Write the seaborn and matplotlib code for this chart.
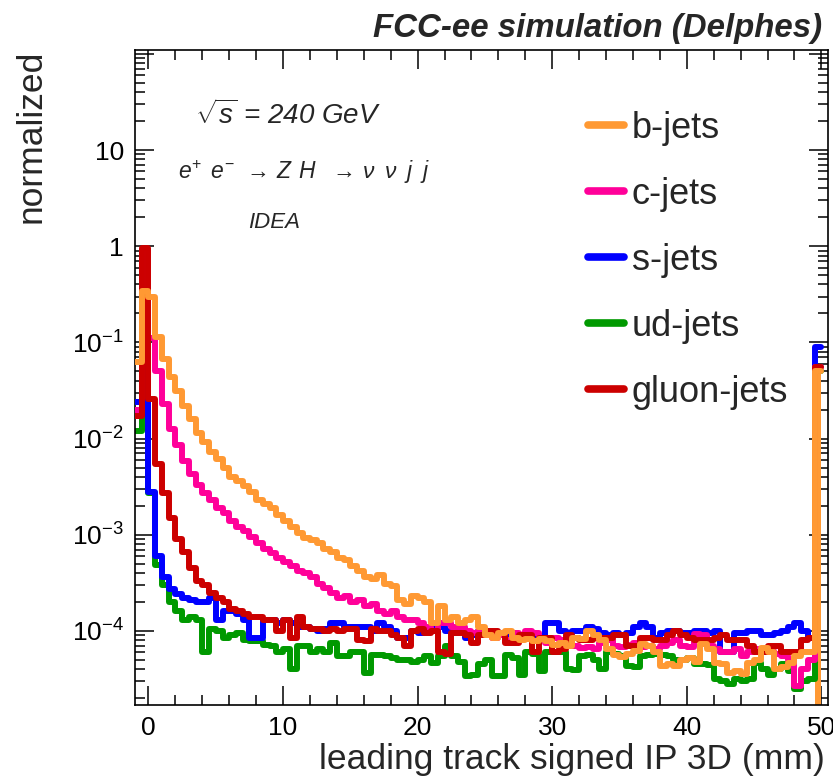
import numpy as np
import pandas as pd
import matplotlib
matplotlib.use("Agg")
import matplotlib.pyplot as plt
import seaborn as sns
from matplotlib.lines import Line2D
from matplotlib.ticker import FixedLocator, MultipleLocator, FuncFormatter, NullFormatter

sns.set_style("ticks")
plt.rcParams['font.family'] = ['Liberation Sans', 'DejaVu Sans']
plt.rcParams['mathtext.fontset'] = 'custom'
plt.rcParams['mathtext.rm'] = 'Liberation Sans'
plt.rcParams['mathtext.it'] = 'Liberation Sans:italic'
plt.rcParams['mathtext.bf'] = 'Liberation Sans:bold'

# ---------------- data ----------------
bin_edges = np.arange(-1.0, 50.0 + 0.25, 0.5)
bin_centers = bin_edges[:-1] + 0.25

labels = ["b-jets", "c-jets", "s-jets", "ud-jets", "gluon-jets"]
colors = ["#ff9933", "#ff0099", "#0000ff", "#009900", "#cc0000"]

b_jets = [
    0.063, 0.34, 0.30, 0.115, 0.068, 0.044, 0.031, 0.022, 0.016, 0.0115,
    0.0092, 0.0072, 0.0062, 0.0049, 0.0040, 0.0036, 0.0032, 0.0028, 0.0023, 0.0021,
    0.0019, 0.0016, 0.0014, 0.0012, 0.00105, 0.00092, 0.00088, 0.00082, 0.00072, 0.00066,
    0.00058, 0.00055, 0.00047, 0.00042, 0.00036, 0.00035, 0.00038, 0.00031, 0.00029, 0.00021,
    0.00019, 0.00023, 0.00022, 0.00020, 0.00012, 0.00018, 0.00013, 0.00014, 0.00012, 0.00013,
    0.00014, 0.00011, 9.0e-5, 8.5e-5, 9.5e-5, 1.0e-4, 8.5e-5, 8.0e-5, 8.2e-5, 7.8e-5,
    8.3e-5, 7.8e-5, 7.2e-5, 7.5e-5, 7.0e-5, 8.5e-5, 8.3e-5, 1.0e-4, 9.0e-5, 8.0e-5,
    6.5e-5, 5.6e-5, 5.4e-5, 5.8e-5, 6.2e-5, 7.3e-5, 7.0e-5, 6.0e-5, 4.3e-5, 4.5e-5,
    4.3e-5, 5.0e-5, 5.2e-5, 4.8e-5, 7.3e-5, 6.5e-5, 4.7e-5, 4.5e-5, 3.7e-5, 3.8e-5,
    3.6e-5, 4.7e-5, 5.0e-5, 6.6e-5, 6.0e-5, 4.0e-5, 4.2e-5, 4.7e-5, 5.5e-5, 6.0e-5,
    6.0e-5, 0.05,
]
c_jets = [
    0.020, 0.85, 0.11, 0.050, 0.023, 0.0127, 0.0085, 0.0059, 0.0043, 0.0033,
    0.0027, 0.0023, 0.0019, 0.0017, 0.0014, 0.0012, 0.0011, 0.00095, 0.00082, 0.00071,
    0.00064, 0.00058, 0.00052, 0.00047, 0.00042, 0.00040, 0.00036, 0.00031, 0.00028, 0.00025,
    0.00022, 0.00023, 0.00020, 0.00021, 0.00018, 0.00019, 0.00016, 0.00015, 0.00016, 0.00014,
    0.00013, 0.00013, 0.00012, 0.00011, 1.0e-4, 0.00012, 0.00012, 0.00011, 0.00011, 1.0e-4,
    9.5e-5, 1.0e-4, 9.5e-5, 8.5e-5, 9.0e-5, 8.0e-5, 9.5e-5, 8.5e-5, 1.0e-4, 9.5e-5,
    8.0e-5, 7.5e-5, 8.5e-5, 8.0e-5, 7.5e-5, 7.0e-5, 6.6e-5, 6.8e-5, 6.5e-5, 7.5e-5,
    8.0e-5, 7.0e-5, 6.8e-5, 7.2e-5, 7.5e-5, 6.8e-5, 7.0e-5, 6.5e-5, 7.0e-5, 7.5e-5,
    8.0e-5, 7.0e-5, 6.8e-5, 9.3e-5, 9.0e-5, 7.0e-5, 6.5e-5, 6.0e-5, 6.0e-5, 6.5e-5,
    5.5e-5, 6.0e-5, 6.5e-5, 6.0e-5, 6.2e-5, 5.8e-5, 5.5e-5, 5.0e-5, 2.7e-5, 4.0e-5,
    5.0e-5, 0.055,
]
s_jets = [
    0.024, 0.90, 0.0028, 0.0006, 0.00036, 0.00027, 0.00024, 0.00022, 0.00021, 0.00020,
    0.00020, 0.00022, 0.00013, 0.00016, 0.00016, 0.00015, 0.00013, 8.5e-5, 8.5e-5, 0.00013,
    0.00013, 0.00012, 0.00013, 0.00012, 0.00011, 0.00011, 0.000105, 1.0e-4, 0.000105, 0.00012,
    0.00012, 0.00011, 0.00011, 0.00011, 0.00011, 1.0e-4, 0.00012, 0.00011, 1.0e-4, 8.5e-5,
    8.5e-5, 1.0e-4, 9.5e-5, 1.0e-4, 0.00011, 0.00011, 1.0e-4, 9.5e-5, 1.0e-4, 8.5e-5,
    9.0e-5, 1.0e-4, 9.5e-5, 9.0e-5, 9.5e-5, 9.0e-5, 8.5e-5, 9.0e-5, 8.5e-5, 9.0e-5,
    8.5e-5, 0.00012, 0.00012, 1.0e-4, 9.5e-5, 1.0e-4, 1.0e-4, 0.00011, 0.000105, 9.5e-5,
    9.0e-5, 9.5e-5, 9.0e-5, 9.5e-5, 0.00011, 0.00012, 0.00011, 8.5e-5, 9.5e-5, 1.0e-4,
    1.0e-4, 9.5e-5, 9.5e-5, 1.0e-4, 1.0e-4, 9.5e-5, 1.0e-4, 6.0e-5, 6.0e-5, 9.5e-5,
    9.5e-5, 1.0e-4, 1.0e-4, 9.0e-5, 9.0e-5, 9.5e-5, 1.0e-4, 0.00011, 0.00012, 1.0e-4,
    8.5e-5, 0.09,
]
ud_jets = [
    0.012, 0.90, 0.0027, 0.00048, 0.00030, 0.00020, 0.00016, 0.00013, 0.00014, 0.00013,
    6.0e-5, 0.000105, 1.0e-4, 8.5e-5, 9.0e-5, 9.5e-5, 8.0e-5, 7.8e-5, 7.8e-5, 7.2e-5,
    7.0e-5, 6.0e-5, 6.5e-5, 4.0e-5, 7.0e-5, 7.0e-5, 6.0e-5, 6.5e-5, 6.0e-5, 7.5e-5,
    5.5e-5, 5.5e-5, 6.0e-5, 6.0e-5, 3.7e-5, 5.6e-5, 5.6e-5, 5.5e-5, 5.2e-5, 5.0e-5,
    5.0e-5, 4.8e-5, 5.0e-5, 5.5e-5, 4.7e-5, 5.5e-5, 7.0e-5, 5.5e-5, 4.8e-5, 3.4e-5,
    3.5e-5, 4.5e-5, 5.0e-5, 3.4e-5, 3.4e-5, 5.6e-5, 5.2e-5, 3.5e-5, 6.0e-5, 5.8e-5,
    3.8e-5, 6.0e-5, 6.0e-5, 6.0e-5, 4.0e-5, 3.9e-5, 5.5e-5, 5.6e-5, 5.0e-5, 4.0e-5,
    6.0e-5, 5.8e-5, 5.5e-5, 4.3e-5, 4.2e-5, 5.5e-5, 5.6e-5, 5.8e-5, 5.6e-5, 5.5e-5,
    5.0e-5, 5.0e-5, 5.2e-5, 4.5e-5, 4.5e-5, 4.4e-5, 3.2e-5, 3.0e-5, 2.8e-5, 3.2e-5,
    3.0e-5, 3.2e-5, 4.7e-5, 4.0e-5, 3.5e-5, 4.0e-5, 4.5e-5, 3.8e-5, 2.5e-5, 3.0e-5,
    3.2e-5, 0.05,
]
gluon_jets = [
    0.017, 0.95, 0.026, 0.0055, 0.0027, 0.0015, 0.00091, 0.00067, 0.00045, 0.00033,
    0.00030, 0.00025, 0.00022, 0.00020, 0.00017, 0.00016, 0.00015, 0.00014, 0.00014, 0.00013,
    0.00013, 1.0e-4, 0.00013, 8.5e-5, 0.00014, 0.00011, 0.000105, 0.000105, 1.0e-4, 0.000105,
    1.0e-4, 0.000105, 0.000105, 8.0e-5, 7.8e-5, 0.000105, 1.0e-4, 1.0e-4, 9.0e-5, 8.5e-5,
    7.0e-5, 1.0e-4, 0.000105, 9.5e-5, 1.0e-4, 6.0e-5, 5.8e-5, 9.5e-5, 9.5e-5, 9.0e-5,
    7.5e-5, 9.0e-5, 1.0e-4, 1.0e-4, 9.5e-5, 7.5e-5, 7.5e-5, 9.0e-5, 9.0e-5, 6.0e-5,
    8.5e-5, 8.5e-5, 6.0e-5, 6.5e-5, 9.0e-5, 8.5e-5, 8.0e-5, 8.0e-5, 8.5e-5, 8.5e-5,
    8.5e-5, 9.0e-5, 9.0e-5, 7.0e-5, 7.0e-5, 8.5e-5, 8.5e-5, 8.0e-5, 8.0e-5, 9.0e-5,
    1.0e-4, 9.0e-5, 8.5e-5, 8.0e-5, 8.0e-5, 8.0e-5, 8.5e-5, 9.0e-5, 8.0e-5, 8.0e-5,
    8.0e-5, 7.0e-5, 6.0e-5, 6.0e-5, 7.0e-5, 7.0e-5, 6.0e-5, 6.0e-5, 6.0e-5, 8.0e-5,
    8.5e-5, 0.055,
]

series = {"b-jets": b_jets, "c-jets": c_jets, "s-jets": s_jets,
          "ud-jets": ud_jets, "gluon-jets": gluon_jets}
palette = dict(zip(labels, colors))

df = pd.concat([pd.DataFrame({"x": bin_centers, "w": v, "flavour": k})
                for k, v in series.items()], ignore_index=True)

y_lo, y_hi = 1.7e-5, 110.0

# ---------------- figure ----------------
fig = plt.figure(figsize=(8.33, 7.79), dpi=100)
ax = fig.add_axes([0.1621, 0.095, 0.832, 0.841])

# last orange bin drawn as a filled band down to the axis
ax.fill_between(bin_edges[-2:], y_lo, b_jets[-1], color=palette["b-jets"],
                lw=0, zorder=1)

draw_order = ["ud-jets", "s-jets", "c-jets", "gluon-jets", "b-jets"]
edge_list = bin_edges.tolist()
for z, name in enumerate(draw_order):
    sub = df[df["flavour"] == name]
    sns.histplot(x=sub["x"].to_numpy(), weights=sub["w"].to_numpy(),
                 bins=edge_list, element="step", fill=False,
                 color=palette[name], linewidth=4.3, ax=ax, zorder=2 + z)

ax.set_yscale("log")
ax.set_xlim(-1.0, 50.5)
ax.set_ylim(y_lo, y_hi)

# ticks ROOT style
ax.xaxis.set_major_locator(MultipleLocator(10))
ax.xaxis.set_minor_locator(MultipleLocator(2))
majors = [1e-4, 1e-3, 1e-2, 1e-1, 1, 10, 100]
ax.yaxis.set_major_locator(FixedLocator(majors))
minors = [m * 10.0**e for e in range(-5, 3) for m in range(2, 10)]
ax.yaxis.set_minor_locator(FixedLocator(minors))
ax.yaxis.set_minor_formatter(NullFormatter())


def yfmt(v, pos):
    e = int(round(np.log10(v)))
    if e == 0:
        return "1"
    if e == 1:
        return "10"
    if e >= 2:
        return ""
    return r"$10^{%d}$" % e


ax.yaxis.set_major_formatter(FuncFormatter(yfmt))
ax.tick_params(which="both", direction="in", top=True, right=True,
               labelsize=19, width=1.1, colors="black")
ax.tick_params(which="major", length=14, pad=8)
ax.tick_params(which="minor", length=7)
for s in ax.spines.values():
    s.set_linewidth(1.2)
    s.set_color("black")

ax.set_xlabel("leading track signed IP 3D (mm)", fontsize=25.5, loc="right")
ax.xaxis.set_label_coords(0.9957, -0.058)
ax.set_ylabel("normalized", fontsize=25.5, loc="top")
ax.yaxis.set_label_coords(-0.126, 1.0)

# annotations
ax.text(0.0866, 0.90, r"$\sqrt{s}$ = 240 GeV", transform=ax.transAxes,
        fontsize=20, style="italic", va="center", ha="left")
ax.text(0.062, 0.814,
        r"$e^{+}\;\, e^{-}\;\, \rightarrow\, Z\;\, H\;\;\, \rightarrow\, \nu\;\; \nu\;\; j\;\; j$",
        transform=ax.transAxes, fontsize=16.5, va="center", ha="left")
ax.text(0.163, 0.737, "IDEA", transform=ax.transAxes, fontsize=16,
        style="italic", va="center", ha="left")
fig.text(0.987, 0.964, "FCC-ee simulation (Delphes)", fontsize=23.8,
         weight="bold", style="italic", ha="right", va="center")

# legend
handles = [Line2D([], [], color=palette[l], lw=5.5) for l in labels]
ax.legend(handles, labels, loc="upper left", bbox_to_anchor=(0.654, 0.907),
          frameon=False, fontsize=26, handlelength=1.0, handletextpad=0.2,
          labelspacing=0.86, borderpad=0, borderaxespad=0)

fig.savefig("out.png", dpi=100)
